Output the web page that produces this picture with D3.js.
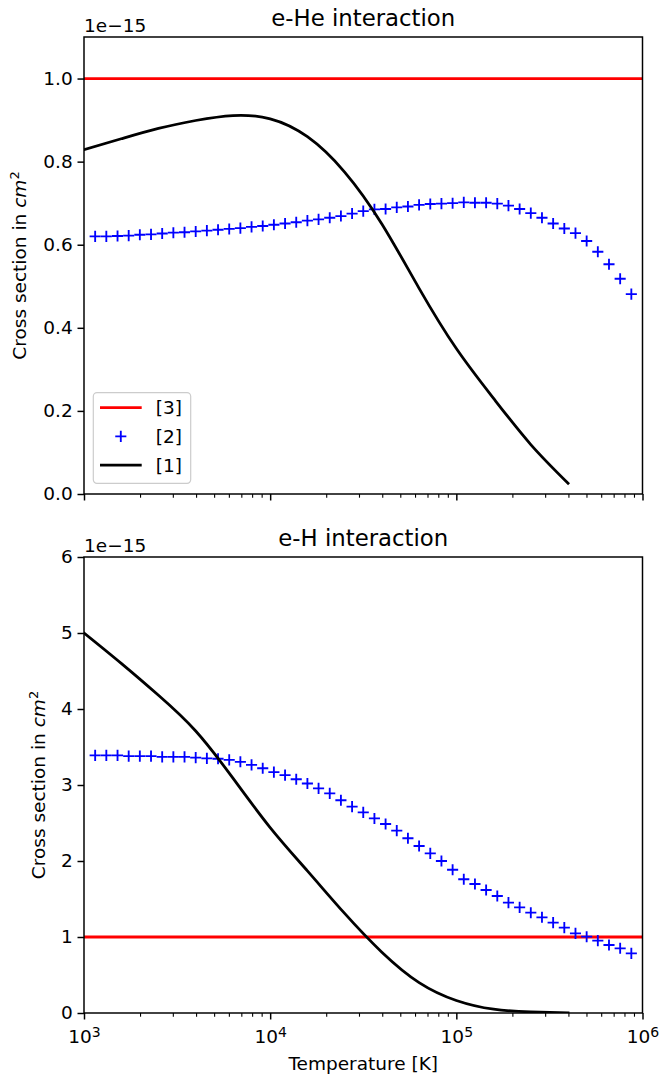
<!DOCTYPE html>
<html>
<head>
<meta charset="utf-8">
<script src="https://cdn.jsdelivr.net/npm/d3@7"></script>
<style>
body { margin: 0; background: #fff; }
svg { display: block; font-family: "DejaVu Sans", sans-serif; }
</style>
</head>
<body>
<div id="chart"></div>
<script>
// cross sections are in units of 1e-15 cm^2

// temperatures of the tabulated set [2] (same grid for both panels)
var tabT = [1148, 1318, 1514, 1738, 1995, 2291, 2630, 3020, 3467, 3981,
            4571, 5248, 6026, 6918, 7943, 9120, 10471, 12023, 13804, 15849,
            18197, 20893, 23988, 27542, 31623, 36308, 41687, 47863, 54954, 63096,
            72444, 83176, 95499, 109648, 125893, 144544, 165959, 190546, 218776, 251189,
            288403, 331131, 380189, 436516, 501187, 575440, 660693, 758578, 870964];

// reference [3] is a constant
var constT = [1e3, 1e6];
var heConst = [1.0, 1.0];
var hConst = [1.0, 1.0];

// e-He, set [2]
var heTab = [0.620, 0.620, 0.621, 0.622, 0.624, 0.625, 0.627, 0.629, 0.630, 0.632,
             0.634, 0.636, 0.638, 0.640, 0.643, 0.645, 0.648, 0.651, 0.654, 0.658,
             0.661, 0.665, 0.669, 0.675, 0.681, 0.685, 0.686, 0.690, 0.692, 0.696,
             0.698, 0.699, 0.700, 0.702, 0.701, 0.701, 0.699, 0.694, 0.686, 0.676,
             0.665, 0.651, 0.639, 0.628, 0.609, 0.583, 0.553, 0.518, 0.481];

// temperatures where the fits [1] are sampled
var fitT = [1000, 1585, 2512, 3981, 6310, 10000, 15850, 25120, 39810, 63100,
            100000, 158500, 251200, 398100];

// e-He, fit [1]
var heFit = [0.829, 0.855, 0.880, 0.899, 0.911, 0.903, 0.860, 0.775, 0.650, 0.495,
             0.350, 0.230, 0.119, 0.026];

// e-H, set [2]
var hTab = [3.39, 3.39, 3.39, 3.38, 3.38, 3.38, 3.37, 3.37, 3.37, 3.36,
            3.35, 3.345, 3.33, 3.305, 3.265, 3.22, 3.17, 3.13, 3.075, 3.02,
            2.955, 2.89, 2.80, 2.715, 2.64, 2.56, 2.487, 2.40, 2.30, 2.197,
            2.10, 2.00, 1.885, 1.76, 1.697, 1.618, 1.539, 1.452, 1.39, 1.32,
            1.259, 1.189, 1.123, 1.048, 1.004, 0.952, 0.895, 0.851, 0.785];

// e-H, fit [1]
var hFit = [5.00, 4.60, 4.18, 3.71, 3.09, 2.44, 1.87, 1.31, 0.80, 0.40,
            0.165, 0.05, 0.015, 0.003];

var xTicks = [1e3, 1e4, 1e5, 1e6];
var heYTicks = [0, 0.2, 0.4, 0.6, 0.8, 1.0];
var hYTicks = [0, 1, 2, 3, 4, 5, 6];
var legendLabels = ["[3]", "[2]", "[1]"];

var W = 659, H = 1078;
var FS = 18.5;          // tick / label font size
var LW = 2.77;          // data line width
var SPINE = 1.48;

var svg = d3.select("#chart").append("svg")
    .attr("width", W)
    .attr("height", H);

var left = 84, right = 642.5;
var x = d3.scaleLog().domain([1e3, 1e6]).range([left, right]);

// minor ticks 2..9 in every decade
var xMinor = [];
for (var i = 0; i < xTicks.length - 1; i++) {
    for (var m = 2; m < 10; m++) xMinor.push(xTicks[i] * m);
}

var plusPath = "M-5.55,0H5.55M0,-5.55V5.55";

function panel(p) {
    var y = d3.scaleLinear().domain(p.yDomain).range([p.bottom, p.top]);
    var g = svg.append("g");

    g.append("clipPath").attr("id", "clip" + p.id)
        .append("rect")
        .attr("x", left).attr("y", p.top)
        .attr("width", right - left).attr("height", p.bottom - p.top);

    var plot = g.append("g").attr("clip-path", "url(#clip" + p.id + ")");

    var line = d3.line().x(function(d) { return x(d[0]); }).y(function(d) { return y(d[1]); });

    // [3]
    plot.append("path")
        .datum(d3.zip(constT, p.constV))
        .attr("d", line)
        .attr("fill", "none")
        .attr("stroke", "#ff0000")
        .attr("stroke-width", LW);

    // [2]
    plot.selectAll(".mk")
        .data(d3.zip(tabT, p.tabV))
        .enter().append("path")
        .attr("class", "mk")
        .attr("transform", function(d) { return "translate(" + x(d[0]) + "," + y(d[1]) + ")"; })
        .attr("d", plusPath)
        .attr("fill", "none")
        .attr("stroke", "#0000ff")
        .attr("stroke-width", 1.85);

    // [1]
    plot.append("path")
        .datum(d3.zip(fitT, p.fitV))
        .attr("d", line.curve(d3.curveNatural))
        .attr("fill", "none")
        .attr("stroke", "#000")
        .attr("stroke-width", LW)
        .attr("stroke-linecap", "square");

    // x axis, major + minor ticks
    var xAx = g.append("g").attr("transform", "translate(0," + p.bottom + ")")
        .call(d3.axisBottom(x).tickValues(xTicks).tickSize(6.5).tickSizeOuter(0).tickFormat(""));
    xAx.select(".domain").remove();
    xAx.selectAll("line").attr("stroke", "#000").attr("stroke-width", SPINE);

    var xMin = g.append("g").attr("transform", "translate(0," + p.bottom + ")")
        .call(d3.axisBottom(x).tickValues(xMinor).tickSize(3.7).tickSizeOuter(0).tickFormat(""));
    xMin.select(".domain").remove();
    xMin.selectAll("line").attr("stroke", "#000").attr("stroke-width", 1.1);

    if (p.xLabels) {
        var t = xAx.selectAll(".tick").append("text")
            .attr("y", 30)
            .attr("text-anchor", "middle")
            .attr("fill", "#000")
            .style("font-size", FS + "px")
            .style("font-family", "DejaVu Sans");
        t.append("tspan").text("10");
        t.append("tspan")
            .attr("dy", -6)
            .style("font-size", "14px")
            .text(function(d) { return Math.round(Math.log10(d)); });

        g.append("text")
            .attr("x", (left + right) / 2)
            .attr("y", 1070)
            .attr("text-anchor", "middle")
            .style("font-size", FS + "px")
            .text("Temperature [K]");
    }

    // y axis
    var yAx = g.append("g").attr("transform", "translate(" + left + ",0)")
        .call(d3.axisLeft(y).tickValues(p.yTicks).tickSize(6.5).tickPadding(4.8)
            .tickSizeOuter(0).tickFormat(p.fmt));
    yAx.select(".domain").remove();
    yAx.selectAll("line").attr("stroke", "#000").attr("stroke-width", SPINE);
    yAx.selectAll("text")
        .attr("fill", "#000")
        .style("font-size", FS + "px")
        .style("font-family", "DejaVu Sans");

    // frame
    g.append("rect")
        .attr("x", left).attr("y", p.top)
        .attr("width", right - left).attr("height", p.bottom - p.top)
        .attr("fill", "none")
        .attr("stroke", "#000")
        .attr("stroke-width", SPINE);

    // title and offset text
    g.append("text")
        .attr("x", (left + right) / 2)
        .attr("y", p.top - 11)
        .attr("text-anchor", "middle")
        .style("font-size", "22.8px")
        .text(p.title);

    g.append("text")
        .attr("x", left)
        .attr("y", p.top - 5.3)
        .style("font-size", FS + "px")
        .text("1e\u221215");

    // y label
    var yl = g.append("text")
        .attr("transform", "translate(" + p.labelX + "," + (p.top + p.bottom) / 2 + ") rotate(-90)")
        .attr("text-anchor", "middle")
        .style("font-size", FS + "px");
    yl.append("tspan").text("Cross section in ");
    yl.append("tspan").style("font-style", "italic").text("cm");
    yl.append("tspan").attr("dy", -7).style("font-size", "13px").text("2");

    return g;
}

var heG = panel({
    id: "he", top: 37, bottom: 494, yDomain: [0, 1.1], yTicks: heYTicks,
    fmt: d3.format(".1f"), title: "e-He interaction", labelX: 25.5,
    constV: heConst, tabV: heTab, fitV: heFit, xLabels: false
});

panel({
    id: "h", top: 557, bottom: 1013, yDomain: [0, 6], yTicks: hYTicks,
    fmt: d3.format("d"), title: "e-H interaction", labelX: 45,
    constV: hConst, tabV: hTab, fitV: hFit, xLabels: true
});

// legend in the upper panel
var lg = heG.append("g");
lg.append("rect")
    .attr("x", 93.3).attr("y", 392.7)
    .attr("width", 97.4).attr("height", 90.6)
    .attr("rx", 3.7)
    .attr("fill", "#fff").attr("fill-opacity", 0.8)
    .attr("stroke", "#cccccc").attr("stroke-width", 1.2);

var rows = lg.selectAll(".row")
    .data(legendLabels)
    .enter().append("g")
    .attr("class", "row")
    .attr("transform", function(d, i) { return "translate(100," + (407.7 + i * 28.7) + ")"; });

rows.each(function(d, i) {
    var r = d3.select(this);
    if (i === 1) {
        r.append("path").attr("d", plusPath)
            .attr("transform", "translate(20.8,0)")
            .attr("fill", "none").attr("stroke", "#0000ff").attr("stroke-width", 1.85);
    } else {
        r.append("line").attr("x1", 0).attr("x2", 41.7)
            .attr("stroke", i === 0 ? "#ff0000" : "#000")
            .attr("stroke-width", LW);
    }
    r.append("text")
        .attr("x", 55.7)
        .attr("dy", "0.36em")
        .style("font-size", FS + "px")
        .text(d);
});
</script>
</body>
</html>
